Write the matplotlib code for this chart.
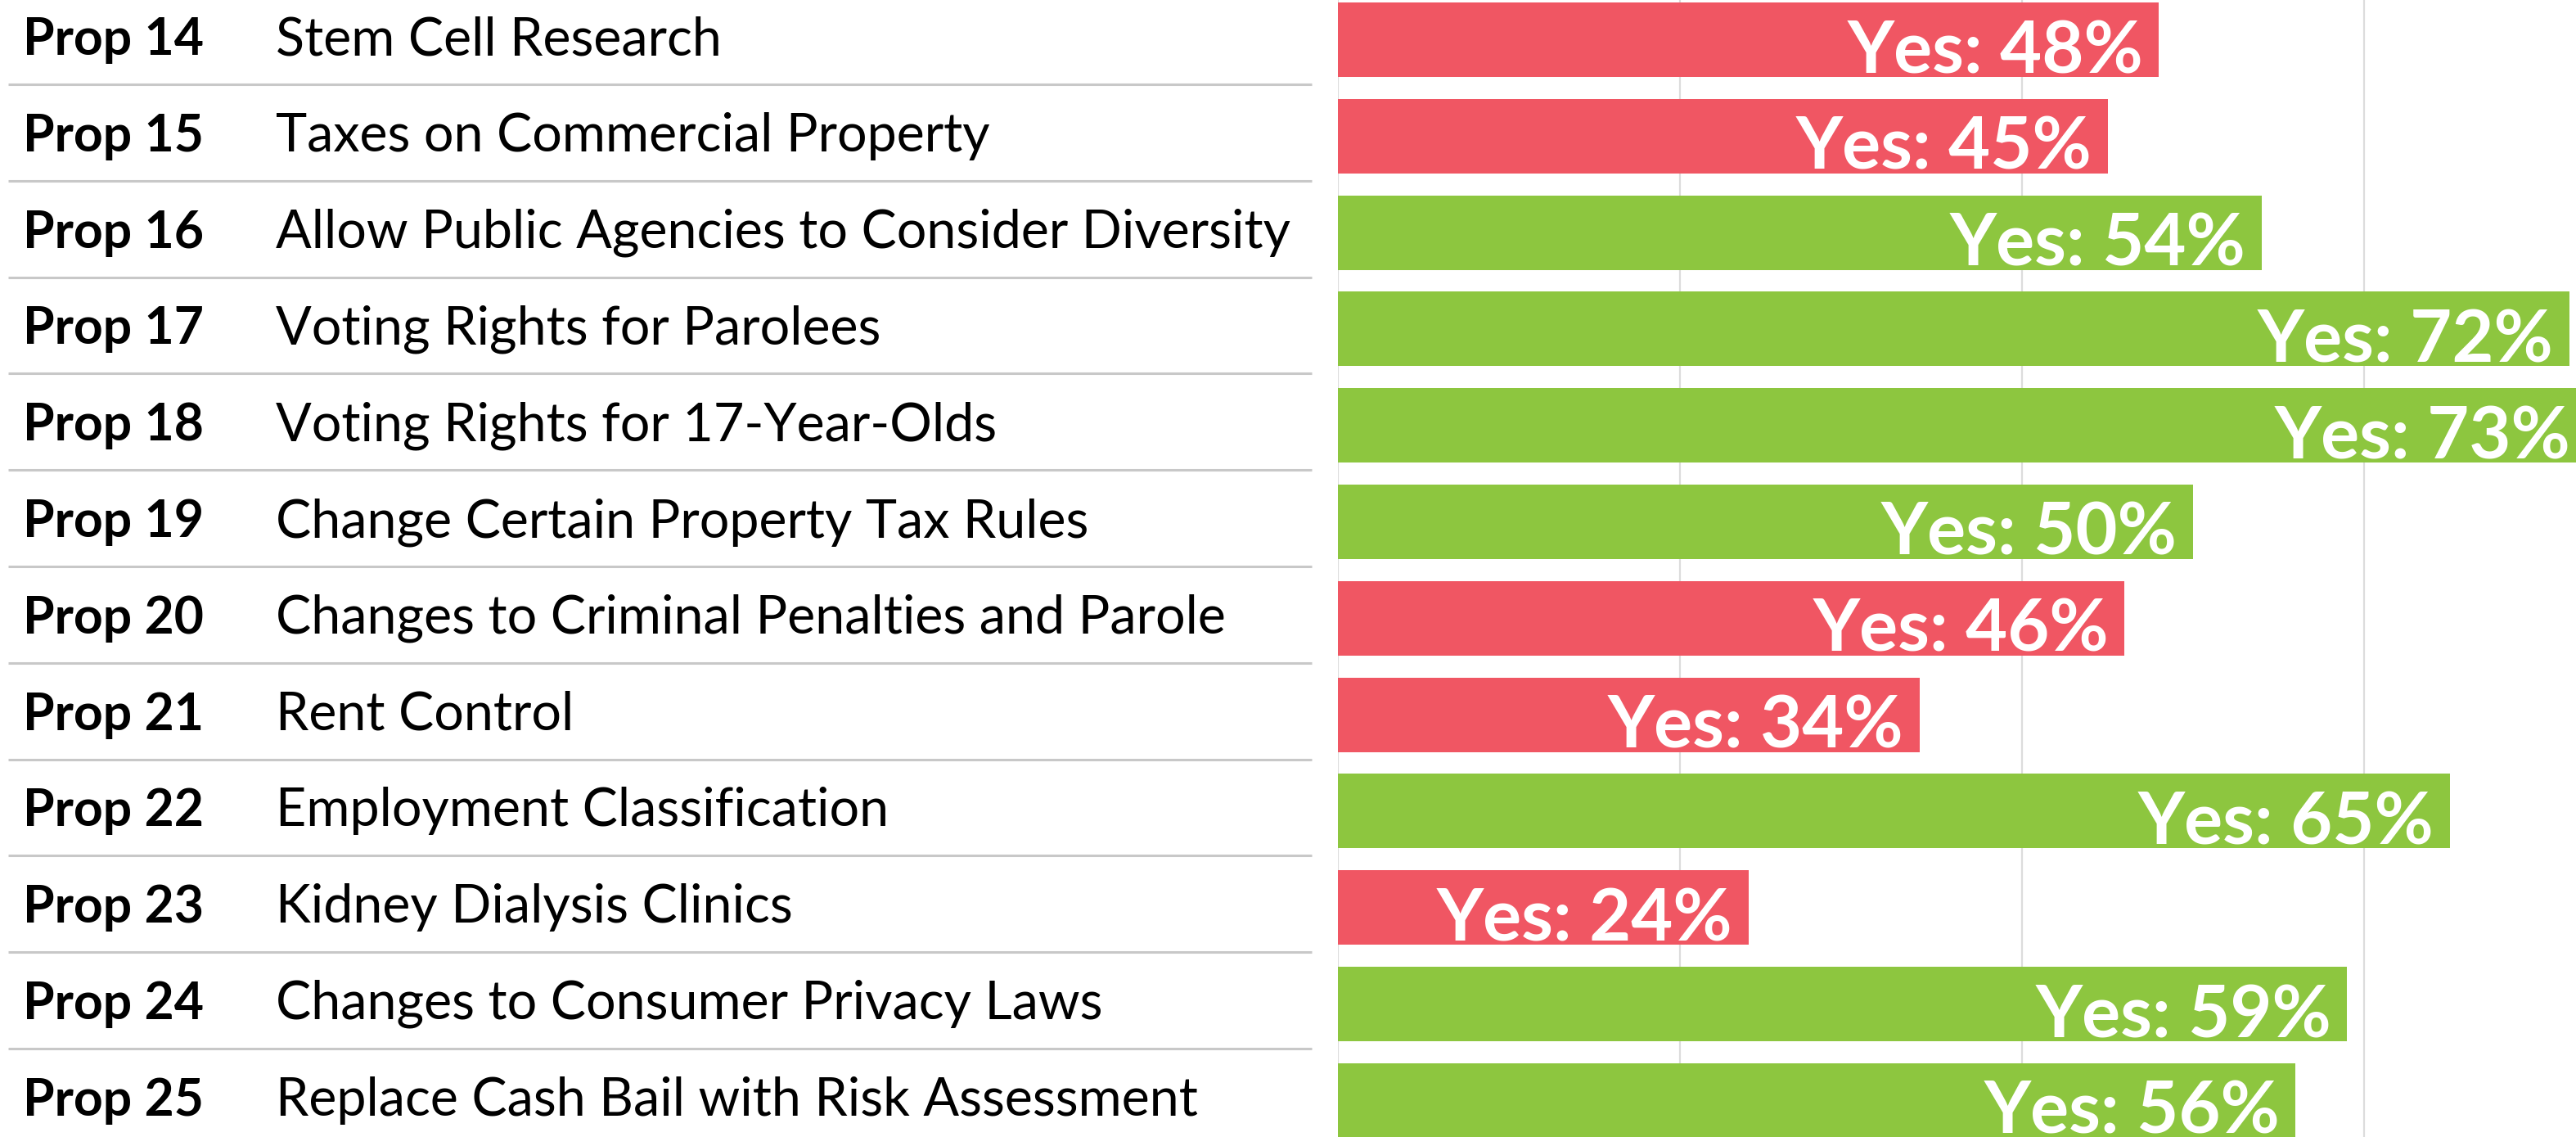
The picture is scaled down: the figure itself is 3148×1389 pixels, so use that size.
import matplotlib
matplotlib.use("Agg")
import matplotlib.pyplot as plt

props = ["Prop 14", "Prop 15", "Prop 16", "Prop 17", "Prop 18", "Prop 19",
         "Prop 20", "Prop 21", "Prop 22", "Prop 23", "Prop 24", "Prop 25"]
titles = ["Stem Cell Research", "Taxes on Commercial Property",
          "Allow Public Agencies to Consider Diversity", "Voting Rights for Parolees",
          "Voting Rights for 17-Year-Olds", "Change Certain Property Tax Rules",
          "Changes to Criminal Penalties and Parole", "Rent Control",
          "Employment Classification", "Kidney Dialysis Clinics",
          "Changes to Consumer Privacy Laws", "Replace Cash Bail with Risk Assessment"]
yes_pct = [48, 45, 54, 72, 73, 50, 46, 34, 65, 24, 59, 56]
outcome = ["no", "no", "yes", "yes", "yes", "yes", "no", "no", "yes", "no", "yes", "yes"]
grid_ticks = [0, 20, 40, 60, 80]

RED = "#F05663"
GREEN = "#8DC63F"
colors = [GREEN if o == "yes" else RED for o in outcome]

W, H, DPI = 3148, 1389, 100
fig = plt.figure(figsize=(W / DPI, H / DPI), dpi=DPI)

pitch = 117.8
top_off = 48.5
ylim = ((H - top_off) / pitch, -top_off / pitch)

# background axes in pixel x-coords for labels and separators
bg = fig.add_axes([0, 0, 1, 1])
bg.set_xlim(0, W)
bg.set_ylim(*ylim)
bg.axis("off")

n = len(props)
for i in range(n - 1):
    bg.plot([10, 1603], [i + 0.463, i + 0.463], color="#c8c8c8", lw=2.2,
            solid_capstyle="butt")
for i in range(n):
    bg.text(28, i + 18.5 / pitch, props[i], fontsize=45, fontweight="bold",
            family="Lato", va="baseline", ha="left", color="black")
    bg.text(337, i + 18.5 / pitch, titles[i], fontsize=46.5,
            family="Lato", va="baseline", ha="left", color="black")

x0 = 1635
ax = fig.add_axes([x0 / W, 0, (W - x0) / W, 1])
ax.set_xlim(0, (W - x0) / 20.9)
ax.set_ylim(*ylim)
for t in grid_ticks:
    ax.axvline(t, color="#dcdcdc", lw=1.6, zorder=0)
ypos = list(range(n))
ax.barh(ypos, yes_pct, height=91 / pitch, color=colors, zorder=2)
for i, v in enumerate(yes_pct):
    ax.annotate(f"Yes: {v}%", xy=(v, i + 40.5 / pitch), xytext=(-19 * 72 / DPI, 0),
                textcoords="offset points", ha="right", va="baseline",
                fontsize=63.5, fontweight="bold", family="Lato", color="white",
                zorder=3, annotation_clip=False)
ax.axis("off")

fig.savefig("out.png", dpi=DPI)
